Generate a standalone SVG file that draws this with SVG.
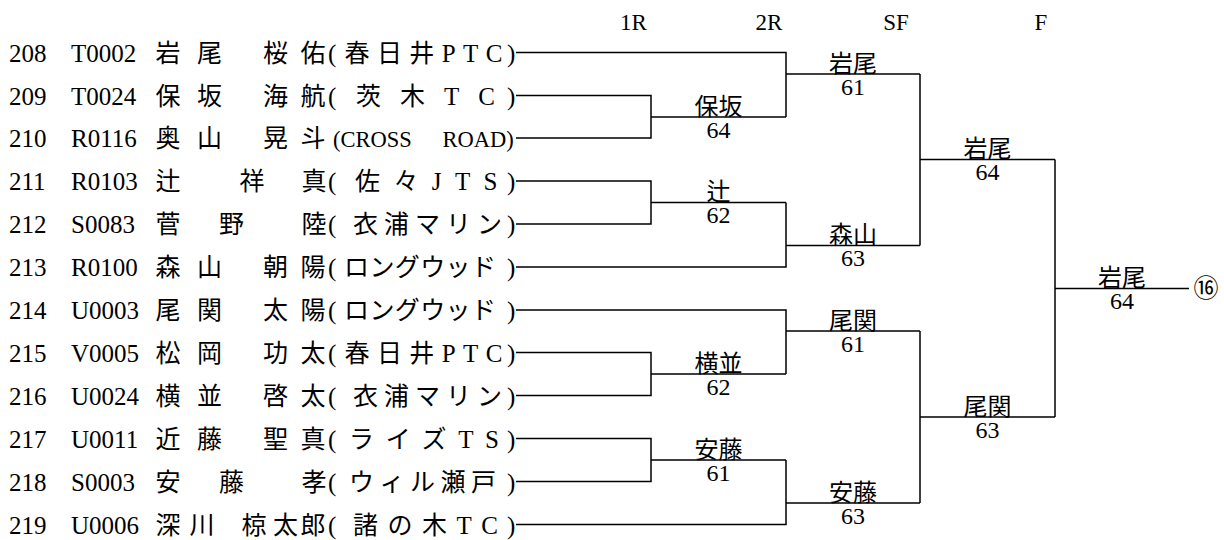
<svg xmlns="http://www.w3.org/2000/svg" width="1224" height="540" viewBox="0 0 1224 540">
<style>
.t{font-family:"Liberation Serif","Noto Sans CJK JP",serif;font-size:25px;fill:#000}
.m{text-anchor:middle}
.h{font-size:23px}
.w{font-size:24px}
.cr{font-size:22.5px}
.ln{stroke:#000;stroke-width:1.5;fill:none}
</style>
<rect width="1224" height="540" fill="#fff"/>
<g id="header">
<text class="t h m" x="633.5" y="30">1R</text>
<text class="t h m" x="769" y="30">2R</text>
<text class="t h m" x="896" y="30">SF</text>
<text class="t h m" x="1041" y="30">F</text>
</g>
<g id="p208"><text class="t" x="9" y="61.5">208</text><text class="t" x="71" y="61.5">T0002</text><text class="t m" x="168 209.5 275.5 313" y="61.5">岩尾桜佑</text><text class="t" x="328" y="61.5">(</text><text class="t" x="344.5" y="61.5" textLength="158" lengthAdjust="spacing">春日井PTC</text><text class="t" x="507" y="61.5">)</text></g>
<g id="p209"><text class="t" x="9" y="104.5">209</text><text class="t" x="71" y="104.5">T0024</text><text class="t m" x="168 209.5 275.5 313" y="104.5">保坂海航</text><text class="t" x="328" y="104.5">(</text><text class="t" x="356" y="104.5" textLength="139" lengthAdjust="spacing">茨木TC</text><text class="t" x="507" y="104.5">)</text></g>
<g id="p210"><text class="t" x="9" y="147">210</text><text class="t" x="71" y="147">R0116</text><text class="t m" x="168 209.5 275.5 313" y="147">奥山晃斗</text><text class="t cr" x="333" y="147" word-spacing="25">(CROSS ROAD)</text></g>
<g id="p211"><text class="t" x="9" y="190">211</text><text class="t" x="71" y="190">R0103</text><text class="t m" x="168 252 314" y="190">辻祥真</text><text class="t" x="328" y="190">(</text><text class="t" x="355" y="190" textLength="142.5" lengthAdjust="spacing">佐々JTS</text><text class="t" x="507" y="190">)</text></g>
<g id="p212"><text class="t" x="9" y="233">212</text><text class="t" x="71" y="233">S0083</text><text class="t m" x="168 231.5 314" y="233">菅野陸</text><text class="t" x="328" y="233">(</text><text class="t" x="353" y="233" textLength="149" lengthAdjust="spacing">衣浦マリン</text><text class="t" x="507" y="233">)</text></g>
<g id="p213"><text class="t" x="9" y="276">213</text><text class="t" x="71" y="276">R0100</text><text class="t m" x="168 209.5 275.5 313" y="276">森山朝陽</text><text class="t" x="328" y="276">(</text><text class="t" x="344" y="276" textLength="152" lengthAdjust="spacing">ロングウッド</text><text class="t" x="507" y="276">)</text></g>
<g id="p214"><text class="t" x="9" y="319">214</text><text class="t" x="71" y="319">U0003</text><text class="t m" x="168 209.5 275.5 313" y="319">尾関太陽</text><text class="t" x="328" y="319">(</text><text class="t" x="344" y="319" textLength="152" lengthAdjust="spacing">ロングウッド</text><text class="t" x="507" y="319">)</text></g>
<g id="p215"><text class="t" x="9" y="361.5">215</text><text class="t" x="71" y="361.5">V0005</text><text class="t m" x="168 209.5 275.5 313" y="361.5">松岡功太</text><text class="t" x="328" y="361.5">(</text><text class="t" x="344.5" y="361.5" textLength="158" lengthAdjust="spacing">春日井PTC</text><text class="t" x="507" y="361.5">)</text></g>
<g id="p216"><text class="t" x="9" y="404.5">216</text><text class="t" x="71" y="404.5">U0024</text><text class="t m" x="168 209.5 275.5 313" y="404.5">横並啓太</text><text class="t" x="328" y="404.5">(</text><text class="t" x="353" y="404.5" textLength="149" lengthAdjust="spacing">衣浦マリン</text><text class="t" x="507" y="404.5">)</text></g>
<g id="p217"><text class="t" x="9" y="447.5">217</text><text class="t" x="71" y="447.5">U0011</text><text class="t m" x="168 209.5 275.5 313" y="447.5">近藤聖真</text><text class="t" x="328" y="447.5">(</text><text class="t" x="349" y="447.5" textLength="150" lengthAdjust="spacing">ライズTS</text><text class="t" x="507" y="447.5">)</text></g>
<g id="p218"><text class="t" x="9" y="490.5">218</text><text class="t" x="71" y="490.5">S0003</text><text class="t m" x="168 231.5 314" y="490.5">安藤孝</text><text class="t" x="328" y="490.5">(</text><text class="t" x="349" y="490.5" textLength="147" lengthAdjust="spacing">ウィル瀬戸</text><text class="t" x="507" y="490.5">)</text></g>
<g id="p219"><text class="t" x="9" y="533.5">219</text><text class="t" x="71" y="533.5">U0006</text><text class="t m" x="168 202 254 285.5 313" y="533.5">深川椋太郎</text><text class="t" x="328" y="533.5">(</text><text class="t" x="353" y="533.5" textLength="145" lengthAdjust="spacing">諸の木TC</text><text class="t" x="507" y="533.5">)</text></g>
<g id="connectors" class="ln">
<path d="M516,52.5 H786 V117"/>
<path d="M516,95.5 H651 V138 H516 M651,117 H786"/>
<path d="M786,74 H920"/>
<path d="M516,181 H651 V224 H516 M651,202.5 H786"/>
<path d="M786,202.5 V267 H516 M786,245.5 H920"/>
<path d="M920,74 V245.5 M920,159.5 H1055"/>
<path d="M516,310 H786 V374"/>
<path d="M516,352.5 H651 V395.5 H516 M651,374 H786"/>
<path d="M786,331 H920"/>
<path d="M516,438.5 H651 V481.5 H516 M651,460 H786"/>
<path d="M516,524.5 H786 V460 M786,503 H920"/>
<path d="M920,331 V503 M920,417 H1055"/>
<path d="M1055,159.5 V417 M1055,288.5 H1189"/>
</g>
<g id="r1a"><text class="t w m" x="718.5" y="114.5">保坂</text><text class="t w m" x="718.5" y="137.5">64</text></g>
<g id="r1b"><text class="t w m" x="718.5" y="200">辻</text><text class="t w m" x="718.5" y="223">62</text></g>
<g id="r1c"><text class="t w m" x="718.5" y="371.5">横並</text><text class="t w m" x="718.5" y="394.5">62</text></g>
<g id="r1d"><text class="t w m" x="718.5" y="457.5">安藤</text><text class="t w m" x="718.5" y="480.5">61</text></g>
<g id="r2a"><text class="t w m" x="853" y="71.5">岩尾</text><text class="t w m" x="853" y="94.5">61</text></g>
<g id="r2b"><text class="t w m" x="853" y="243">森山</text><text class="t w m" x="853" y="266">63</text></g>
<g id="r2c"><text class="t w m" x="853" y="328.5">尾関</text><text class="t w m" x="853" y="351.5">61</text></g>
<g id="r2d"><text class="t w m" x="853" y="500.5">安藤</text><text class="t w m" x="853" y="523.5">63</text></g>
<g id="sfa"><text class="t w m" x="987.5" y="157">岩尾</text><text class="t w m" x="987.5" y="180">64</text></g>
<g id="sfb"><text class="t w m" x="987.5" y="414.5">尾関</text><text class="t w m" x="987.5" y="437.5">63</text></g>
<g id="fin"><text class="t w m" x="1122" y="286">岩尾</text><text class="t w m" x="1122" y="309">64</text></g>
<g id="draw"><text class="t m" x="1206" y="297">⑯</text></g>
</svg>
